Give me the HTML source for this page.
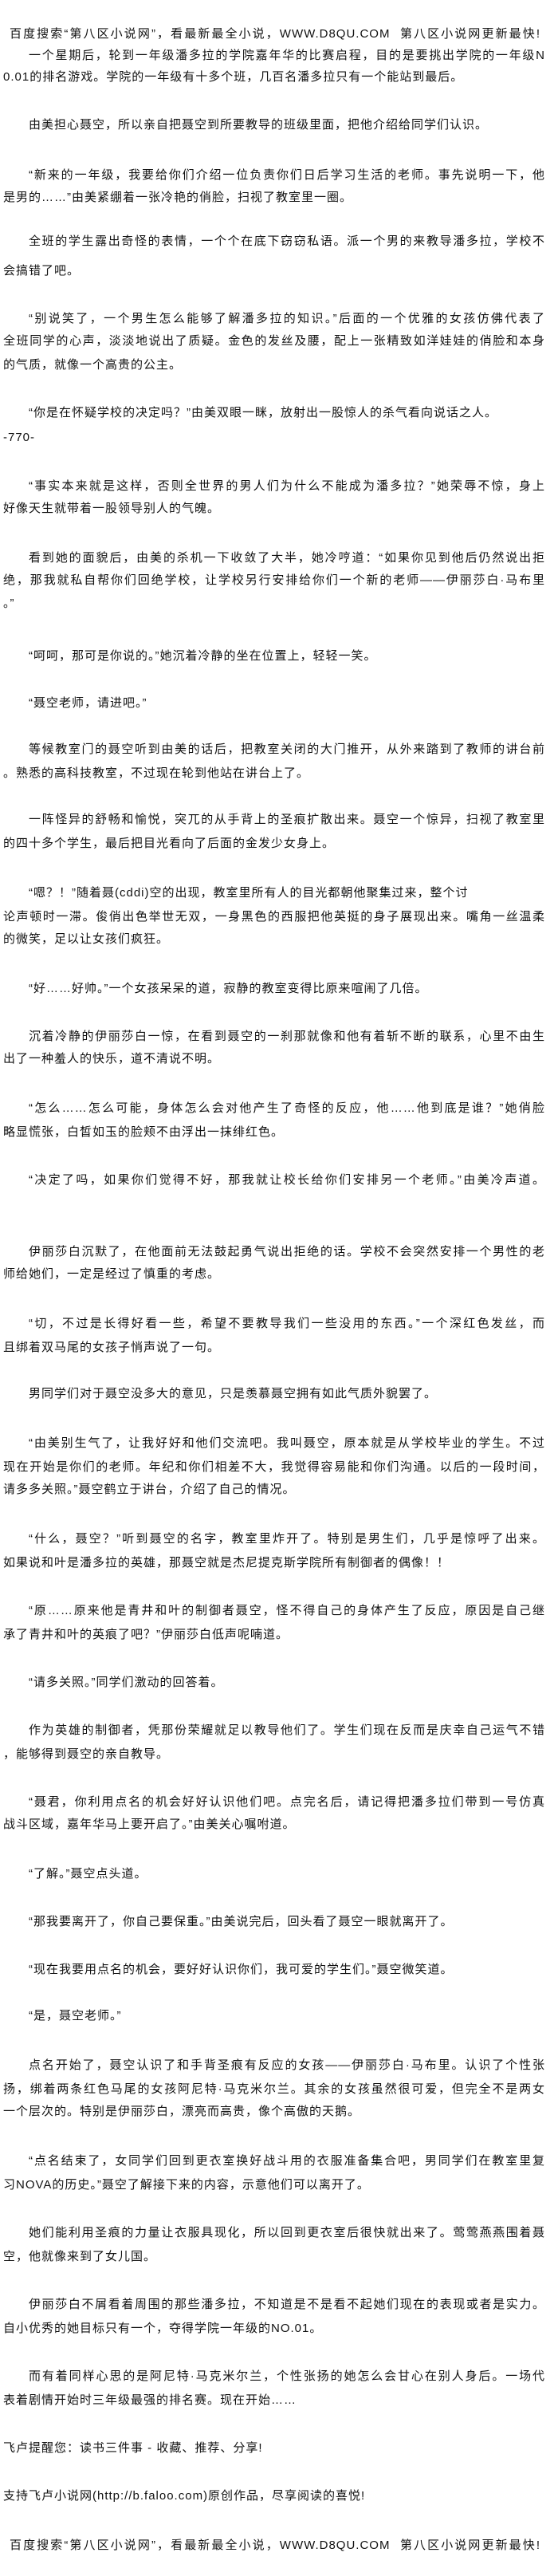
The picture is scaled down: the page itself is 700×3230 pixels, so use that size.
<!DOCTYPE html>
<html lang="zh-CN"><head><meta charset="utf-8">
<style>
html,body{margin:0;padding:0;background:#fff;}
body{width:700px;height:3230px;position:relative;overflow:hidden;
font-family:"Liberation Sans","Noto Sans CJK SC","WenQuanYi Zen Hei",sans-serif;color:#111;}
.l{position:absolute;white-space:nowrap;font-size:15px;letter-spacing:1px;line-height:20px;}
.i{left:36px;}
.c{left:4px;}
.f{text-align:justify;text-align-last:justify;text-justify:inter-character;}
.i.f{width:648px;}
.c.f{width:680px;}
.h{left:12px;width:666px;text-align:justify;text-align-last:justify;text-justify:inter-character;}
</style></head><body>
<div class="l h" style="top:33px">百度搜索“第八区小说网”，看最新最全小说，WWW.D8QU.COM&nbsp;&nbsp;第八区小说网更新最快!</div>
<div class="l i f" style="top:60px">一个星期后，轮到一年级潘多拉的学院嘉年华的比赛启程，目的是要挑出学院的一年级N</div>
<div class="l c" style="top:87px">0.01的排名游戏。学院的一年级有十多个班，几百名潘多拉只有一个能站到最后。</div>
<div class="l i" style="top:147px">由美担心聂空，所以亲自把聂空到所要教导的班级里面，把他介绍给同学们认识。</div>
<div class="l i f" style="top:210px">“新来的一年级，我要给你们介绍一位负责你们日后学习生活的老师。事先说明一下，他</div>
<div class="l c" style="top:238px">是男的……”由美紧绷着一张冷艳的俏脸，扫视了教室里一圈。</div>
<div class="l i f" style="top:293px">全班的学生露出奇怪的表情，一个个在底下窃窃私语。派一个男的来教导潘多拉，学校不</div>
<div class="l c" style="top:330px">会搞错了吧。</div>
<div class="l i f" style="top:390px">“别说笑了，一个男生怎么能够了解潘多拉的知识。”后面的一个优雅的女孩仿佛代表了</div>
<div class="l c f" style="top:418px">全班同学的心声，淡淡地说出了质疑。金色的发丝及腰，配上一张精致如洋娃娃的俏脸和本身</div>
<div class="l c" style="top:448px">的气质，就像一个高贵的公主。</div>
<div class="l i" style="top:508px">“你是在怀疑学校的决定吗？”由美双眼一眯，放射出一股惊人的杀气看向说话之人。</div>
<div class="l c" style="top:539px">-770-</div>
<div class="l i f" style="top:600px">“事实本来就是这样，否则全世界的男人们为什么不能成为潘多拉？”她荣辱不惊，身上</div>
<div class="l c" style="top:628px">好像天生就带着一股领导别人的气魄。</div>
<div class="l i f" style="top:690px">看到她的面貌后，由美的杀机一下收敛了大半，她冷哼道：“如果你见到他后仍然说出拒</div>
<div class="l c f" style="top:718px">绝，那我就私自帮你们回绝学校，让学校另行安排给你们一个新的老师——伊丽莎白·马布里</div>
<div class="l c" style="top:747px">。”</div>
<div class="l i" style="top:813px">“呵呵，那可是你说的。”她沉着冷静的坐在位置上，轻轻一笑。</div>
<div class="l i" style="top:872px">“聂空老师，请进吧。”</div>
<div class="l i f" style="top:930px">等候教室门的聂空听到由美的话后，把教室关闭的大门推开，从外来踏到了教师的讲台前</div>
<div class="l c" style="top:960px">。熟悉的高科技教室，不过现在轮到他站在讲台上了。</div>
<div class="l i f" style="top:1018px">一阵怪异的舒畅和愉悦，突兀的从手背上的圣痕扩散出来。聂空一个惊异，扫视了教室里</div>
<div class="l c" style="top:1048px">的四十多个学生，最后把目光看向了后面的金发少女身上。</div>
<div class="l i" style="top:1110px">“嗯？！”随着聂(cddi)空的出现，教室里所有人的目光都朝他聚集过来，整个讨</div>
<div class="l c f" style="top:1140px">论声顿时一滞。俊俏出色举世无双，一身黑色的西服把他英挺的身子展现出来。嘴角一丝温柔</div>
<div class="l c" style="top:1168px">的微笑，足以让女孩们疯狂。</div>
<div class="l i" style="top:1230px">“好……好帅。”一个女孩呆呆的道，寂静的教室变得比原来喧闹了几倍。</div>
<div class="l i f" style="top:1290px">沉着冷静的伊丽莎白一惊，在看到聂空的一刹那就像和他有着斩不断的联系，心里不由生</div>
<div class="l c" style="top:1318px">出了一种羞人的快乐，道不清说不明。</div>
<div class="l i f" style="top:1380px">“怎么……怎么可能，身体怎么会对他产生了奇怪的反应，他……他到底是谁？”她俏脸</div>
<div class="l c" style="top:1410px">略显慌张，白皙如玉的脸颊不由浮出一抹绯红色。</div>
<div class="l i f" style="top:1470px">“决定了吗，如果你们觉得不好，那我就让校长给你们安排另一个老师。”由美冷声道。</div>
<div class="l i f" style="top:1560px">伊丽莎白沉默了，在他面前无法鼓起勇气说出拒绝的话。学校不会突然安排一个男性的老</div>
<div class="l c" style="top:1588px">师给她们，一定是经过了慎重的考虑。</div>
<div class="l i f" style="top:1650px">“切，不过是长得好看一些，希望不要教导我们一些没用的东西。”一个深红色发丝，而</div>
<div class="l c" style="top:1680px">且绑着双马尾的女孩子悄声说了一句。</div>
<div class="l i" style="top:1738px">男同学们对于聂空没多大的意见，只是羡慕聂空拥有如此气质外貌罢了。</div>
<div class="l i f" style="top:1800px">“由美别生气了，让我好好和他们交流吧。我叫聂空，原本就是从学校毕业的学生。不过</div>
<div class="l c f" style="top:1830px">现在开始是你们的老师。年纪和你们相差不大，我觉得容易能和你们沟通。以后的一段时间，</div>
<div class="l c" style="top:1858px">请多多关照。”聂空鹤立于讲台，介绍了自己的情况。</div>
<div class="l i f" style="top:1920px">“什么，聂空？”听到聂空的名字，教室里炸开了。特别是男生们，几乎是惊呼了出来。</div>
<div class="l c" style="top:1950px">如果说和叶是潘多拉的英雄，那聂空就是杰尼提克斯学院所有制御者的偶像！！</div>
<div class="l i f" style="top:2010px">“原……原来他是青井和叶的制御者聂空，怪不得自己的身体产生了反应，原因是自己继</div>
<div class="l c" style="top:2040px">承了青井和叶的英痕了吧？”伊丽莎白低声呢喃道。</div>
<div class="l i" style="top:2100px">“请多关照。”同学们激动的回答着。</div>
<div class="l i f" style="top:2160px">作为英雄的制御者，凭那份荣耀就足以教导他们了。学生们现在反而是庆幸自己运气不错</div>
<div class="l c" style="top:2190px">，能够得到聂空的亲自教导。</div>
<div class="l i f" style="top:2250px">“聂君，你利用点名的机会好好认识他们吧。点完名后，请记得把潘多拉们带到一号仿真</div>
<div class="l c" style="top:2278px">战斗区域，嘉年华马上要开启了。”由美关心嘱咐道。</div>
<div class="l i" style="top:2340px">“了解。”聂空点头道。</div>
<div class="l i" style="top:2400px">“那我要离开了，你自己要保重。”由美说完后，回头看了聂空一眼就离开了。</div>
<div class="l i" style="top:2460px">“现在我要用点名的机会，要好好认识你们，我可爱的学生们。”聂空微笑道。</div>
<div class="l i" style="top:2518px">“是，聂空老师。”</div>
<div class="l i f" style="top:2580px">点名开始了，聂空认识了和手背圣痕有反应的女孩——伊丽莎白·马布里。认识了个性张</div>
<div class="l c f" style="top:2610px">扬，绑着两条红色马尾的女孩阿尼特·马克米尔兰。其余的女孩虽然很可爱，但完全不是两女</div>
<div class="l c" style="top:2638px">一个层次的。特别是伊丽莎白，漂亮而高贵，像个高傲的天鹅。</div>
<div class="l i f" style="top:2700px">“点名结束了，女同学们回到更衣室换好战斗用的衣服准备集合吧，男同学们在教室里复</div>
<div class="l c" style="top:2730px">习NOVA的历史。”聂空了解接下来的内容，示意他们可以离开了。</div>
<div class="l i f" style="top:2790px">她们能利用圣痕的力量让衣服具现化，所以回到更衣室后很快就出来了。莺莺燕燕围着聂</div>
<div class="l c" style="top:2820px">空，他就像来到了女儿国。</div>
<div class="l i f" style="top:2880px">伊丽莎白不屑看着周围的那些潘多拉，不知道是不是看不起她们现在的表现或者是实力。</div>
<div class="l c" style="top:2910px">自小优秀的她目标只有一个，夺得学院一年级的NO.01。</div>
<div class="l i f" style="top:2970px">而有着同样心思的是阿尼特·马克米尔兰，个性张扬的她怎么会甘心在别人身后。一场代</div>
<div class="l c" style="top:3000px">表着剧情开始时三年级最强的排名赛。现在开始……</div>
<div class="l c" style="top:3060px">飞卢提醒您：读书三件事 - 收藏、推荐、分享!</div>
<div class="l c" style="top:3120px">支持飞卢小说网(http://b.faloo.com)原创作品，尽享阅读的喜悦!</div>
<div class="l h" style="top:3182px">百度搜索“第八区小说网”，看最新最全小说，WWW.D8QU.COM&nbsp;&nbsp;第八区小说网更新最快!</div>
</body></html>
